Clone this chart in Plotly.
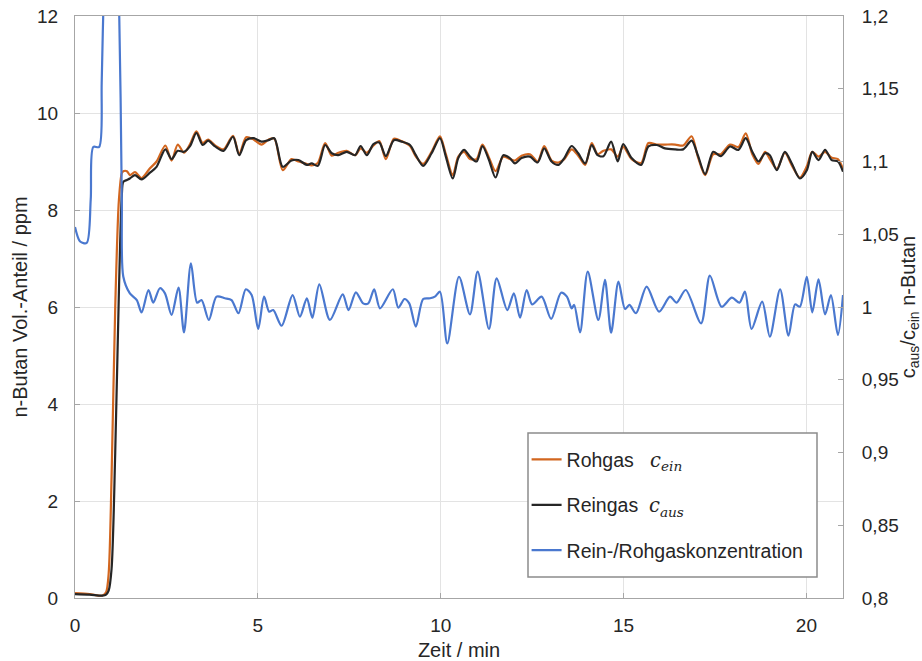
import plotly.graph_objects as go

# ---- data ----
zeit_gas = [0.0, 0.4, 0.75, 0.85, 0.92, 1.0, 1.1, 1.2, 1.28, 1.32, 1.42, 1.5, 1.64, 1.82, 2.05, 2.23, 2.47,
            2.64, 2.81, 2.98, 3.14, 3.32, 3.49, 3.64, 3.83, 4.06, 4.32, 4.49, 4.68, 4.89, 5.10, 5.29,
            5.45, 5.68, 5.92, 6.11, 6.34, 6.47, 6.64, 6.84, 7.02, 7.20, 7.43, 7.66, 7.81, 7.98, 8.16,
            8.32, 8.50, 8.72, 8.93, 9.16, 9.32, 9.52, 9.75, 9.98, 10.14, 10.33, 10.48, 10.64, 10.80,
            10.98, 11.14, 11.32, 11.50, 11.71, 11.89, 12.03, 12.21, 12.44, 12.65, 12.83, 13.03, 13.22,
            13.38, 13.58, 13.76, 13.95, 14.13, 14.29, 14.45, 14.66, 14.84, 14.99, 15.22, 15.48, 15.68,
            15.91, 16.13, 16.41, 16.63, 16.86, 17.03, 17.23, 17.45, 17.66, 17.91, 18.14, 18.34, 18.52,
            18.69, 18.87, 19.00, 19.19, 19.41, 19.60, 19.82, 20.01, 20.16, 20.33, 20.51, 20.69, 20.86,
            21.0]

rohgas = [0.10, 0.08, 0.05, 0.12, 0.50, 2.50, 6.00, 8.20, 8.76, 8.80, 8.80, 8.72, 8.78, 8.66, 8.86, 9.00, 9.33,
          9.02, 9.35, 9.18, 9.35, 9.62, 9.38, 9.45, 9.33, 9.25, 9.53, 9.15, 9.50, 9.45, 9.35, 9.45,
          9.47, 8.82, 9.05, 9.00, 8.95, 8.92, 8.97, 9.38, 9.12, 9.18, 9.22, 9.13, 9.27, 9.18, 9.33,
          9.42, 9.05, 9.47, 9.42, 9.32, 9.10, 8.95, 9.20, 9.52, 9.15, 8.72, 9.10, 9.20, 9.05,
          9.05, 9.35, 9.08, 8.80, 9.10, 9.05, 9.02, 9.12, 9.15, 9.00, 9.32, 9.02, 8.98,
          9.05, 9.25, 9.12, 8.93, 9.38, 9.15, 9.22, 9.25, 9.10, 9.30, 9.05, 8.97, 9.38,
          9.35, 9.35, 9.35, 9.33, 9.52, 9.10, 8.72, 9.15, 9.15, 9.35, 9.30, 9.58, 9.15,
          8.95, 9.20, 9.05, 8.85, 9.18, 8.92, 8.67, 8.90, 9.20, 9.10, 9.20, 9.08, 9.05,
          8.85]

reingas = [0.08, 0.07, 0.05, 0.07, 0.15, 0.60, 3.00, 6.30, 8.30, 8.58, 8.62, 8.65, 8.72, 8.63, 8.77, 8.89, 9.25,
           9.05, 9.22, 9.20, 9.31, 9.59, 9.34, 9.43, 9.31, 9.22, 9.51, 9.13, 9.44, 9.48, 9.41, 9.44,
           9.48, 8.89, 9.02, 9.03, 8.93, 8.96, 8.91, 9.34, 9.17, 9.13, 9.20, 9.13, 9.32, 9.13, 9.36,
           9.39, 9.11, 9.44, 9.41, 9.34, 9.13, 8.91, 9.17, 9.48, 9.10, 8.65, 9.07, 9.24, 9.10,
           9.00, 9.32, 9.03, 8.67, 9.13, 9.07, 8.96, 9.07, 9.10, 8.98, 9.27, 9.00, 8.93,
           9.07, 9.32, 9.17, 8.96, 9.34, 9.13, 9.11, 9.41, 9.00, 9.36, 9.07, 8.93, 9.31,
           9.34, 9.27, 9.25, 9.25, 9.43, 9.13, 8.74, 9.20, 9.11, 9.31, 9.24, 9.48, 9.20,
           9.00, 9.17, 9.13, 8.82, 9.20, 8.96, 8.65, 8.82, 9.20, 9.03, 9.24, 9.03, 9.00,
           8.79]

zeit_verh = [0.0, 0.14, 0.32, 0.43, 0.50, 0.66, 0.73, 0.77, 0.98, 1.21, 1.28, 1.32,
             1.50, 1.69, 1.82, 2.01, 2.14, 2.32, 2.46, 2.64, 2.83, 2.98, 3.17, 3.34, 3.46, 3.66,
             3.87, 4.10, 4.28, 4.47, 4.67, 4.83, 5.01, 5.17, 5.31, 5.42, 5.65, 5.95, 6.15, 6.34,
             6.49, 6.68, 6.97, 7.32, 7.48, 7.68, 7.88, 8.02, 8.18, 8.34, 8.69, 8.84, 9.01, 9.14,
             9.32, 9.52, 9.71, 9.84, 9.98, 10.18, 10.50, 10.80, 11.01, 11.32, 11.53, 11.82, 12.00,
             12.17, 12.35, 12.50, 12.76, 13.02, 13.29, 13.45, 13.58, 13.65, 13.81, 14.02, 14.31,
             14.49, 14.66, 14.86, 15.04, 15.16, 15.34, 15.63, 15.97, 16.27, 16.45, 16.70, 17.12,
             17.36, 17.68, 17.96, 18.17, 18.32, 18.50, 18.79, 19.00, 19.28, 19.51, 19.69, 19.82,
             20.01, 20.16, 20.33, 20.51, 20.67, 20.86, 21.0]

verhaeltnis = [1.055, 1.045, 1.044, 1.074, 1.110, 1.110, 1.154, 1.199, 1.36, 1.200, 1.074, 1.021,
               1.0094, 1.0048, 0.9963, 1.0117, 1.0030, 1.0129, 1.0094, 0.9945, 1.0133, 0.9826, 1.0300,
               1.0030, 1.0048, 0.9911, 1.0071, 1.0060, 1.0048, 0.9957, 1.0122, 1.0082, 0.9849, 1.0071,
               0.9968, 0.9979, 0.9871, 1.0082, 0.9933, 1.0060, 0.9926, 1.0156, 0.9911, 1.0087, 0.9979,
               1.0101, 1.0025, 1.0025, 1.0122, 0.9991, 1.0122, 0.9995, 1.0055, 1.0025, 0.9865, 1.0055,
               1.0060, 1.0071, 1.0105, 0.9750, 1.0208, 0.9950, 1.0243, 0.9849, 1.0197, 0.9979, 1.0094,
               0.9926, 1.0117, 1.0018, 1.0071, 0.9918, 1.0098, 1.0071, 0.9991, 1.0014, 0.9826, 1.0243,
               0.9911, 1.0186, 0.9823, 1.0174, 0.9986, 1.0014, 0.9957, 1.0140, 0.9968, 1.0071, 1.0030,
               1.0117, 0.9888, 1.0215, 1.0002, 1.0064, 1.0030, 1.0105, 0.9849, 1.0037, 0.9796, 1.0122,
               0.9803, 1.0018, 1.0002, 1.0208, 0.9963, 1.0190, 0.9950, 1.0082, 0.9808, 1.0082]

x_ticks = [0, 5, 10, 15, 20]
y_ticks = [0, 2, 4, 6, 8, 10, 12]
y2_ticks = [0.8, 0.85, 0.9, 0.95, 1.0, 1.05, 1.1, 1.15, 1.2]
y2_labels = ["0,8", "0,85", "0,9", "0,95", "1", "1,05", "1,1", "1,15", "1,2"]

FONT = "Liberation Sans, Arial, sans-serif"
TXT = "#262626"
MATH = "font-family:'DejaVu Serif', 'Liberation Serif', serif"

fig = go.Figure()
fig.add_trace(go.Scatter(
    x=zeit_gas, y=rohgas, mode="lines",
    name=f"Rohgas   <span style=\"{MATH}\"><i>c</i><sub><i>ein</i></sub></span>",
    line=dict(color="#d2661f", width=2.2, shape="spline", smoothing=0.8),
    legendgroup="a"))
fig.add_trace(go.Scatter(
    x=zeit_gas, y=reingas, mode="lines",
    name=f"Reingas  <span style=\"{MATH}\"><i>c</i><sub><i>aus</i></sub></span>",
    line=dict(color="#262626", width=2.2, shape="spline", smoothing=0.8),
    legendgroup="b"))
fig.add_trace(go.Scatter(
    x=zeit_verh, y=verhaeltnis, mode="lines", yaxis="y2",
    name="Rein-/Rohgaskonzentration",
    line=dict(color="#4a78cf", width=2.2, shape="spline", smoothing=0.8),
    legendgroup="c"))

def axis_common(standoff):
    return dict(
        showline=True, linecolor="#a6a6a6", linewidth=1,
        ticks="inside", ticklen=5, tickcolor="#a6a6a6",
        tickfont=dict(family=FONT, size=19, color=TXT),
        ticklabelstandoff=standoff,
        zeroline=False, automargin=False,
    )

title_font = dict(family=FONT, size=20, color=TXT)

fig.update_layout(
    width=922, height=661,
    margin=dict(l=75, r=79, t=16, b=63, autoexpand=False),
    paper_bgcolor="white", plot_bgcolor="white",
    font=dict(family=FONT, size=19, color=TXT),
    separators=",.",
    xaxis=dict(range=[0, 21], tickvals=x_ticks, showgrid=True, gridcolor="#e3e3e3",
               mirror=True,
               title=dict(text="Zeit / min", font=title_font, standoff=12),
               **axis_common(10)),
    yaxis=dict(range=[0, 12], tickvals=y_ticks, showgrid=True, gridcolor="#e3e3e3",
               title=dict(text="n-Butan Vol.-Anteil / ppm", font=title_font, standoff=4),
               **axis_common(12)),
    yaxis2=dict(range=[0.8, 1.2], tickvals=y2_ticks, ticktext=y2_labels, overlaying="y",
                side="right", showgrid=False,
                title=dict(text="c<sub>aus</sub>/c<sub>ein</sub> n-Butan", font=title_font, standoff=7),
                **axis_common(14)),
    showlegend=True,
    legend=dict(x=0.588, y=0.271, xanchor="left", yanchor="top",
                bgcolor="rgba(0,0,0,0)", borderwidth=0,
                font=dict(family=FONT, size=19.5, color=TXT),
                traceorder="grouped", tracegroupgap=17, itemwidth=30),
    shapes=[dict(type="rect", xref="paper", yref="paper",
                 x0=(528 - 75) / 768, x1=(817 - 75) / 768,
                 y0=(598 - 577) / 582, y1=(598 - 433) / 582,
                 line=dict(color="#8c8c8c", width=1.5), fillcolor="white", layer="above")],
)

fig.write_html("out.html")
